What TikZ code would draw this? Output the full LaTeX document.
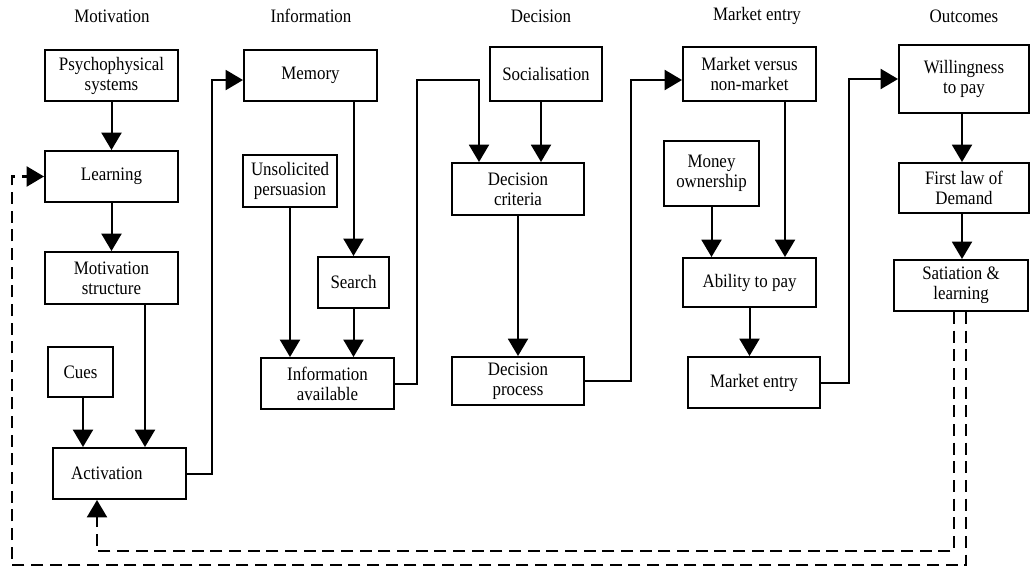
\documentclass[tikz,border=0pt]{standalone}
\usepackage{fontspec}
\setmainfont{Liberation Serif}[FakeStretch=0.89]
\usetikzlibrary{arrows.meta,calc}
\begin{document}
\begin{tikzpicture}[x=0.75pt,y=-0.75pt,
  txt/.style={font=\fontsize{14.25pt}{15pt}\selectfont},
  box/.style={txt,draw,line width=1.5pt,align=center,inner sep=0pt},
  sz/.style 2 args={minimum width=#1*0.75pt,minimum height=#2*0.75pt},
  arr/.style={line width=1.5pt,-{Triangle[length=13pt,width=15pt]}},
  dsh/.style={line width=1.6pt,dash pattern=on 9pt off 5pt,-{Triangle[length=13pt,width=15pt]}}]
\useasboundingbox (0,0) rectangle (1031,570);
% titles
\node[txt] (t1) at (112,16) {Motivation};
\node[txt] (t2) at (311,16) {Information};
\node[txt] (t3) at (541,16) {Decision};
\node[txt] (t4) at (757,16) {Market entry};
\node[txt] (t5) at (964,16) {Outcomes};
% motivation
\node[box,sz={133}{51}] (psy) at (111.5,75.5) {Psychophysical\\systems};
\node[box,sz={133}{51}] (learn) at (111.5,176.5) {Learning};
\node[box,sz={133}{52}] (motstr) at (111.5,278) {Motivation\\structure};
\node[box,sz={65}{50}] (cues) at (80.5,372) {Cues};
\node[box,sz={133}{51}] (activ) at (119.5,473.5) {Activation\hspace*{19pt}};
% information
\node[box,sz={133}{51}] (mem) at (310.5,75.5) {Memory};
\node[box,sz={94}{52}] (unsol) at (290,181) {Unsolicited\\persuasion};
\node[box,sz={71}{51}] (search) at (353.5,282.5) {Search};
\node[box,sz={133}{51}] (info) at (327.5,383.5) {Information\\available};
% decision
\node[box,sz={112}{54}] (social) at (546,74) {Socialisation};
\node[box,sz={132}{52}] (dcrit) at (518,189) {Decision\\criteria};
\node[box,sz={132}{48}] (dproc) at (518,381) {Decision\\process};
% market entry
\node[box,sz={133}{54}] (mvn) at (749.5,74) {Market versus\\non-market};
\node[box,sz={95}{65}] (money) at (711.5,173.5) {Money\\ownership};
\node[box,sz={133}{49}] (ability) at (749.5,282.5) {Ability to pay};
\node[box,sz={132}{51}] (mentry) at (754,382.5) {Market entry};
% outcomes
\node[box,sz={130}{68}] (will) at (964,79) {Willingness\\to pay};
\node[box,sz={130}{50}] (flaw) at (964,188) {First law of\\Demand};
\node[box,sz={134}{51}] (sat) at (961,285.5) {Satiation \&\\learning};
% connectors: motivation
\draw[arr] (psy) -- (learn);
\draw[arr] (learn) -- (motstr);
\draw[arr] (145,0 |- motstr.south) -- (145,0 |- activ.north);
\draw[arr] (83,0 |- cues.south) -- (83,0 |- activ.north);
\draw[arr] (activ.east) -- ++(25,0) |- ([yshift=-3.4pt]mem.west);
% information
\draw[arr] (search.north |- mem.south) -- (search.north);
\draw[arr] (unsol.south) -- (unsol.south |- info.north);
\draw[arr] (search.south) -- (search.south |- info.north);
\coordinate (k2) at (479,80);
\draw[arr] (info.east) -- ++(22,0) |- (k2) -- (k2 |- dcrit.north);
% decision
\draw[arr] (541,0 |- social.south) -- (541,0 |- dcrit.north);
\draw[arr] (dcrit) -- (dproc);
\draw[arr] (dproc.east) -- ++(46,0) |- ([yshift=-4.5pt]mvn.west);
% market entry
\draw[arr] (785,0 |- mvn.south) -- (785,0 |- ability.north);
\draw[arr] (money.south) -- (money.south |- ability.north);
\draw[arr] (ability.south) -- (ability.south |- mentry.north);
\draw[arr] (mentry.east) -- ++(28,0) |- (will.west);
% outcomes
\draw[arr] (962,0 |- will.south) -- (962,0 |- flaw.north);
\draw[arr] (962,0 |- flaw.south) -- (962,0 |- sat.north);
% feedback loops
\coordinate (f1) at (954,551);
\coordinate (f2) at (966,565);
\coordinate (f3) at (12,176.5);
\draw[dsh] (f1 |- sat.south) -- (f1) -| (97,0 |- activ.south);
\draw[dsh] (f2 |- sat.south) -- (f2) -| (f3) -- (learn.west);
\end{tikzpicture}
\end{document}
